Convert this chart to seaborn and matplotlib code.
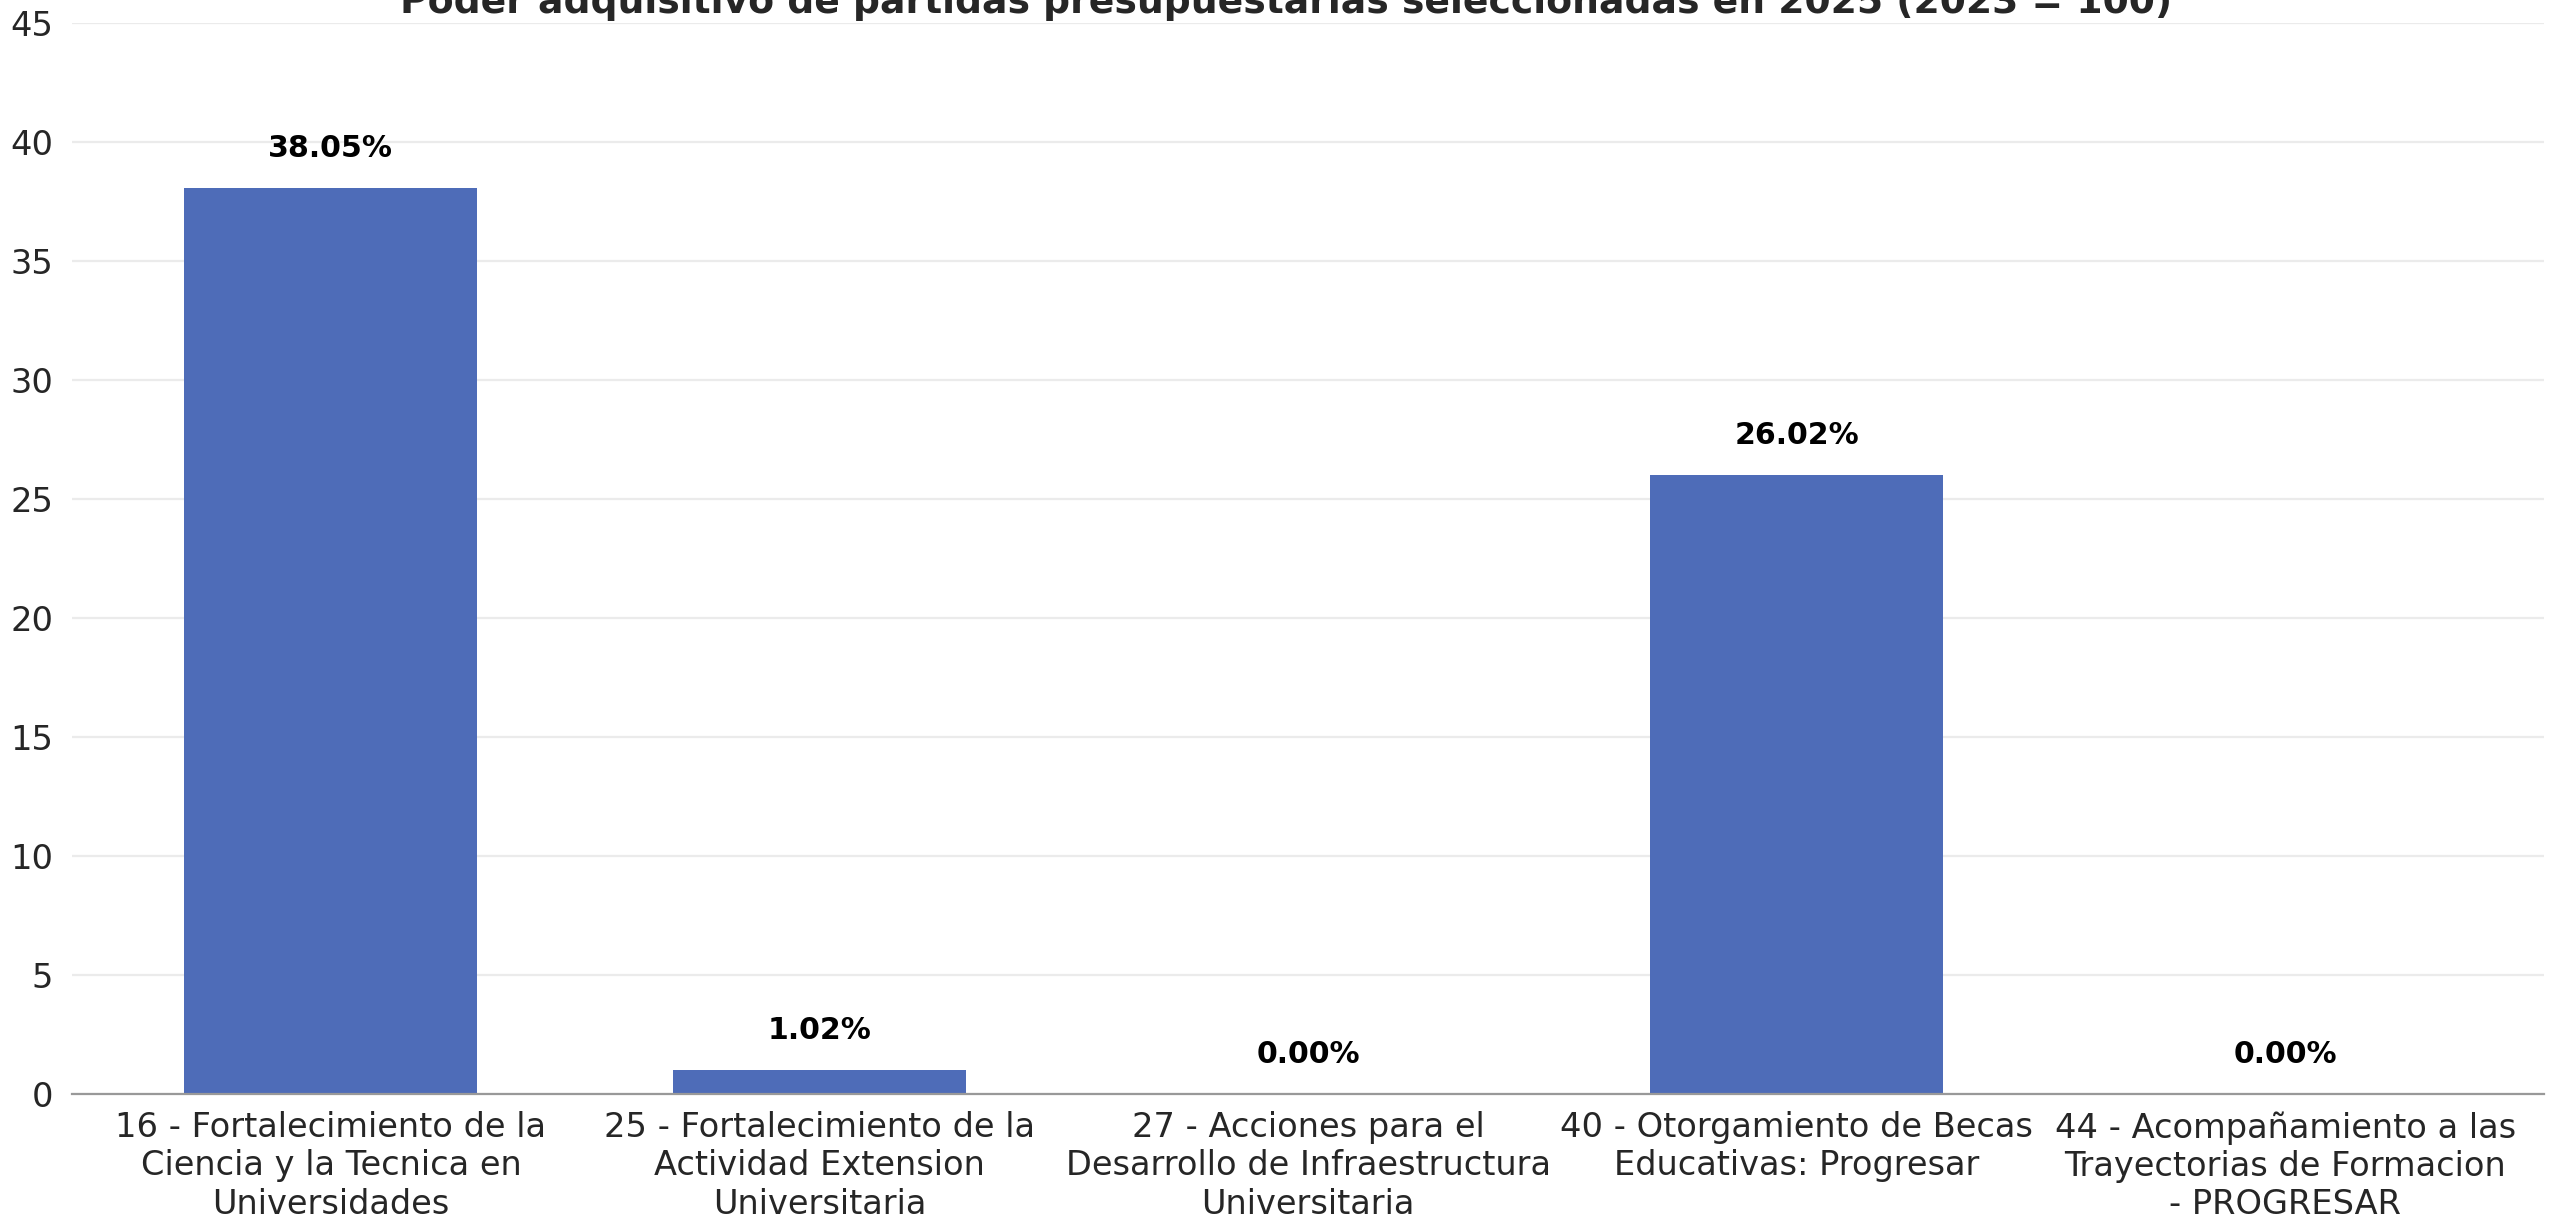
import matplotlib
matplotlib.use("Agg")
import matplotlib.pyplot as plt
import seaborn as sns
import pandas as pd

# data
partidas = [
    "16 - Fortalecimiento de la\nCiencia y la Tecnica en\nUniversidades",
    "25 - Fortalecimiento de la\nActividad Extension\nUniversitaria",
    "27 - Acciones para el\nDesarrollo de Infraestructura\nUniversitaria",
    "40 - Otorgamiento de Becas\nEducativas: Progresar",
    "44 - Acompañamiento a las\nTrayectorias de Formacion\n- PROGRESAR",
]
poder_adquisitivo = [38.05, 1.02, 0.00, 26.02, 0.00]
y_ticks = [0, 5, 10, 15, 20, 25, 30, 35, 40, 45]
titulo = "Poder adquisitivo de partidas presupuestarias seleccionadas en 2025 (2023 = 100)"

df = pd.DataFrame({"partida": partidas, "valor": poder_adquisitivo})

sns.set_theme(style="white")
plt.rcParams["font.family"] = ["DejaVu Sans"]

fig, ax = plt.subplots(figsize=(12.76, 6.1), dpi=200)
fig.subplots_adjust(left=72 / 2552, right=2544 / 2552, bottom=1 - 1094 / 1220, top=1 - 23 / 1220)

bar_w = 0.6
sns.barplot(data=df, x="partida", y="valor", color="#4e6cb8", saturation=1,
            width=bar_w, linewidth=0, ax=ax)

n = len(partidas)
m = 0.05 * (n - 1 + bar_w)
ax.set_xlim(-bar_w / 2 - m, n - 1 + bar_w / 2 + m)
ax.set_ylim(0, 45)
ax.set_yticks(y_ticks)

ax.grid(axis="y", color="#ebebeb", linewidth=0.8)
ax.set_axisbelow(True)

for s in ["top", "right", "left"]:
    ax.spines[s].set_visible(False)
ax.spines["bottom"].set_color("#999999")
ax.spines["bottom"].set_linewidth(0.8)

ax.tick_params(axis="x", length=3.2, width=0.6, color="#333333", labelsize=12.1,
               labelcolor="#262626", pad=3)
ax.tick_params(axis="y", length=0, labelsize=12.1, labelcolor="#262626", pad=6.8)

ax.bar_label(ax.containers[0], labels=[f"{v:.2f}%" for v in poder_adquisitivo],
             padding=9, fontsize=10.8, fontweight="bold", color="black")

ax.set_xlabel("")
ax.set_ylabel("")
# title sits a bit left of the axes centre and is clipped by the top edge, as in the source
ax.set_title(titulo, fontsize=13.6, fontweight="bold", pad=3.6, x=0.491)

fig.savefig("out.png", dpi=200)
